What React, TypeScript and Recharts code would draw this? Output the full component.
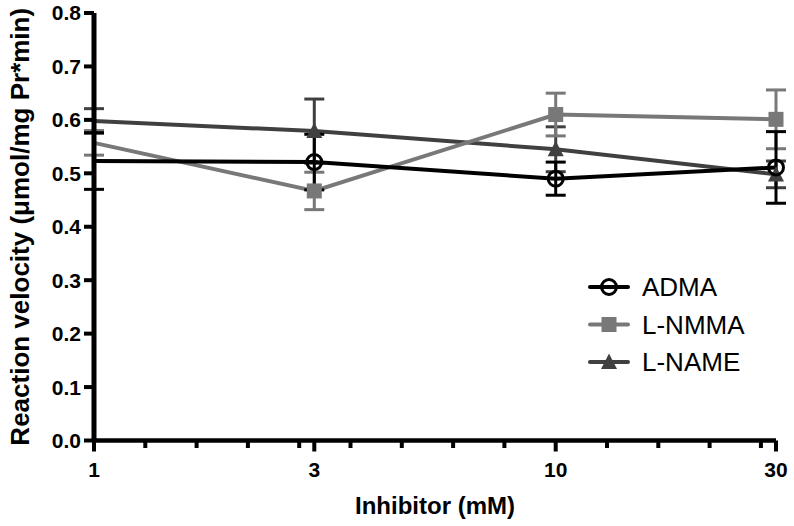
import React from 'react';
import { LineChart, Line, XAxis, YAxis, ErrorBar, Legend } from 'recharts';

// ---- data ----
const doses = [1, 3, 10, 30];
const admaMean = [0.523, 0.521, 0.49, 0.511];
const admaErr = [0.053, 0.052, 0.031, 0.067];
const nmmaMean = [0.557, 0.467, 0.61, 0.601];
const nmmaErr = [0.023, 0.035, 0.04, 0.055];
const nameMean = [0.598, 0.579, 0.545, 0.498];
const nameErr = [0.023, 0.06, 0.042, 0.025];

const majorXTicks = [1, 3, 10, 30];
const minorXTicks = [1.2915, 1.6681, 2.1544, 2.7826, 3.5938, 4.6416, 5.9948, 7.7426, 12.915, 16.681, 21.544, 27.826];
const yTicks = [0, 0.1, 0.2, 0.3, 0.4, 0.5, 0.6, 0.7, 0.8];

const xTitle = 'Inhibitor (mM)';
const yTitle = 'Reaction velocity (\u03bcmol/mg Pr*min)';

const FONT = "'Liberation Sans', Arial, Helvetica, sans-serif";

const series = [
  { key: 'name', err: 'name_e', label: 'L-NAME', color: '#404040', shape: 'triangle' },
  { key: 'nmma', err: 'nmma_e', label: 'L-NMMA', color: '#787878', shape: 'square' },
  { key: 'adma', err: 'adma_e', label: 'ADMA', color: '#000000', shape: 'circle' },
];
const legendOrder = ['adma', 'nmma', 'name'];

const data = doses.map((d, i) => ({
  x: d,
  adma: admaMean[i],
  adma_e: admaErr[i],
  nmma: nmmaMean[i],
  nmma_e: nmmaErr[i],
  name: nameMean[i],
  name_e: nameErr[i],
}));

const marker = (shape: string, cx: number, cy: number, color: string) => {
  if (shape === 'circle')
    return <circle cx={cx} cy={cy} r={7.5} fill="none" stroke={color} strokeWidth={3} />;
  if (shape === 'square')
    return <rect x={cx - 7.5} y={cy - 7.5} width={15} height={15} fill={color} />;
  return <polygon points={`${cx},${cy - 8.5} ${cx + 8},${cy + 7} ${cx - 8},${cy + 7}`} fill={color} />;
};

const makeDot = (shape: string, color: string) => (props: any) => {
  const { cx, cy, index } = props;
  if (index === 0 || cx == null || cy == null) return <g key={`d${index}`} />;
  return <g key={`d${index}`}>{marker(shape, cx, cy, color)}</g>;
};

const XTick = (props: any) => {
  const { x, y, payload } = props;
  const v = payload.value;
  const major = majorXTicks.includes(v);
  return (
    <g>
      <line x1={x} y1={y} x2={x} y2={y + (major ? 11 : 7.5)} stroke="#000" strokeWidth={4} />
      {major && (
        <text x={x} y={y + 36} textAnchor="middle" fontSize={21} fontWeight="bold" fill="#000" fontFamily={FONT}>
          {v}
        </text>
      )}
    </g>
  );
};

const renderLegend = () => (
  <svg width={210} height={110} style={{ display: 'block' }}>
    {legendOrder.map((k, i) => {
      const s = series.find((q) => q.key === k)!;
      const cy = 19 + i * 37.5;
      return (
        <g key={s.key}>
          <line x1={5} x2={43} y1={cy} y2={cy} stroke={s.color} strokeWidth={4} strokeLinecap="round" />
          {marker(s.shape, 24, cy, s.color)}
          <text x={57} y={cy} dy="0.36em" fontSize={26} fontFamily={FONT} fill="#000">
            {s.label}
          </text>
        </g>
      );
    })}
  </svg>
);

export default function App() {
  return (
    <div style={{ position: 'absolute', left: 0, top: 0, width: 794, height: 526, background: '#fff' }}>
      <LineChart width={794} height={526} data={data} margin={{ top: 13, right: 18, bottom: 0, left: 0 }}>
        <XAxis
          dataKey="x"
          type="number"
          scale="log"
          domain={[1, 30]}
          ticks={[...majorXTicks, ...minorXTicks]}
          interval={0}
          tick={(p: any) => <XTick {...p} />}
          tickSize={0}
          tickMargin={0}
          tickLine={false}
          axisLine={{ stroke: '#000', strokeWidth: 4.5 }}
          height={85.5}
          label={{
            content: (p: any) => {
              const vb = p.viewBox || {};
              const cx = (vb.x ?? 94) + (vb.width ?? 682) / 2;
              return (
                <text x={cx} y={(vb.y ?? 440.5) + 73.5} textAnchor="middle" fontSize={24} fontWeight="bold" fontFamily={FONT} fill="#000">
                  {xTitle}
                </text>
              );
            },
          }}
        />
        <YAxis
          type="number"
          domain={[0, 0.8]}
          ticks={yTicks}
          interval={0}
          width={94}
          tickSize={10}
          tickMargin={3}
          tickFormatter={(v: number) => v.toFixed(1)}
          axisLine={{ stroke: '#000', strokeWidth: 5 }}
          tickLine={{ stroke: '#000', strokeWidth: 4 }}
          tick={{ fill: '#000', fontSize: 21, fontWeight: 'bold', fontFamily: FONT }}
          label={{
            content: (p: any) => {
              const vb = p.viewBox || {};
              const cy = (vb.y ?? 13) + (vb.height ?? 427.5) / 2;
              const x = 29;
              return (
                <text x={x} y={cy} transform={`rotate(-90, ${x}, ${cy})`} textAnchor="middle" fontSize={26} fontWeight="bold" fontFamily={FONT} fill="#000">
                  {yTitle}
                </text>
              );
            },
          }}
        />
        <Legend
          layout="vertical"
          align="center"
          verticalAlign="middle"
          content={renderLegend}
          wrapperStyle={{ left: 585, top: 268, width: 210, height: 110 }}
        />
        {series.map((s) => (
          <Line
            key={s.key}
            dataKey={s.key}
            stroke={s.color}
            strokeWidth={4}
            isAnimationActive={false}
            dot={makeDot(s.shape, s.color)}
            activeDot={false}
            legendType="none"
          >
            <ErrorBar dataKey={s.err} width={10} stroke={s.color} strokeWidth={3} direction="y" isAnimationActive={false} />
          </Line>
        ))}
      </LineChart>
    </div>
  );
}
